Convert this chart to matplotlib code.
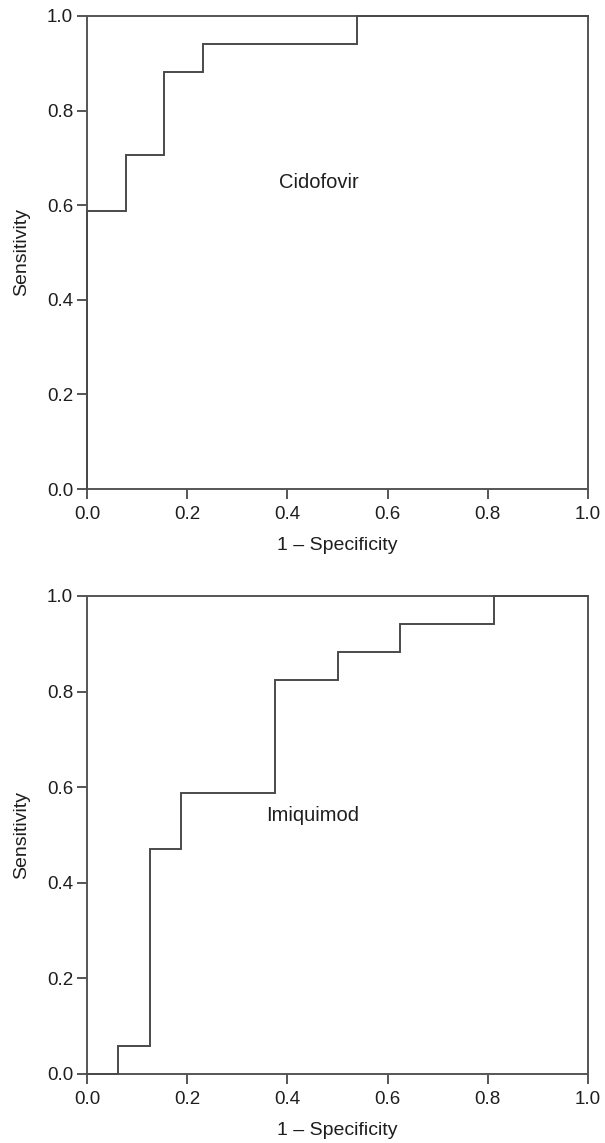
import matplotlib
matplotlib.use("Agg")
import matplotlib.pyplot as plt

plt.rcParams['font.family'] = ['Liberation Sans', 'DejaVu Sans']

# ROC curve coordinates (1 - specificity, sensitivity)
cido_fpr = [0.0, 0.0, 0.077, 0.077, 0.154, 0.154, 0.231, 0.231, 0.538, 0.538, 1.0]
cido_tpr = [0.0, 0.588, 0.588, 0.706, 0.706, 0.882, 0.882, 0.941, 0.941, 1.0, 1.0]

imiq_fpr = [0.0, 0.0625, 0.0625, 0.125, 0.125, 0.1875, 0.1875, 0.375, 0.375,
            0.5, 0.5, 0.625, 0.625, 0.8125, 0.8125, 1.0]
imiq_tpr = [0.0, 0.0, 0.059, 0.059, 0.471, 0.471, 0.588, 0.588, 0.824,
            0.824, 0.882, 0.882, 0.941, 0.941, 1.0, 1.0]

ticks = [0.0, 0.2, 0.4, 0.6, 0.8, 1.0]
tick_labels = ["0.0", "0.2", "0.4", "0.6", "0.8", "1.0"]
x_label = "1 \u2013 Specificity"
y_label = "Sensitivity"

W, H = 605, 1143
fig = plt.figure(figsize=(W / 100, H / 100), dpi=100)

line_col = "#4a4a4a"
spine_col = "#555555"
text_col = "#1e1e1e"

panels = [
    dict(rect=[87 / W, 1 - 489 / H, 501 / W, 473 / H], fpr=cido_fpr, tpr=cido_tpr,
         name="Cidofovir", tx=0.383, ty=0.647),
    dict(rect=[87 / W, 1 - 1074 / H, 501 / W, 478 / H], fpr=imiq_fpr, tpr=imiq_tpr,
         name="Imiquimod", tx=0.357, ty=0.540),
]

for p in panels:
    ax = fig.add_axes(p["rect"])
    ax.plot(p["fpr"], p["tpr"], color=line_col, lw=1.4, solid_joinstyle="miter",
            clip_on=False, zorder=3)
    ax.set_xlim(0, 1)
    ax.set_ylim(0, 1)
    ax.set_xticks(ticks)
    ax.set_xticklabels(tick_labels)
    ax.set_yticks(ticks)
    ax.set_yticklabels(tick_labels)
    for s in ax.spines.values():
        s.set_color(spine_col)
        s.set_linewidth(1.4)
    ax.tick_params(direction="out", length=7, width=1.4, color=spine_col,
                   labelsize=13.5, labelcolor=text_col, pad=3)
    ax.tick_params(axis="x", pad=5)
    ax.set_xlabel(x_label, fontsize=14, color=text_col, labelpad=10)
    ax.set_ylabel(y_label, fontsize=14, color=text_col, labelpad=12)
    ax.text(p["tx"], p["ty"], p["name"], fontsize=14.5, color=text_col,
            ha="left", va="center", transform=ax.transData)

fig.savefig("out.png", dpi=100)
